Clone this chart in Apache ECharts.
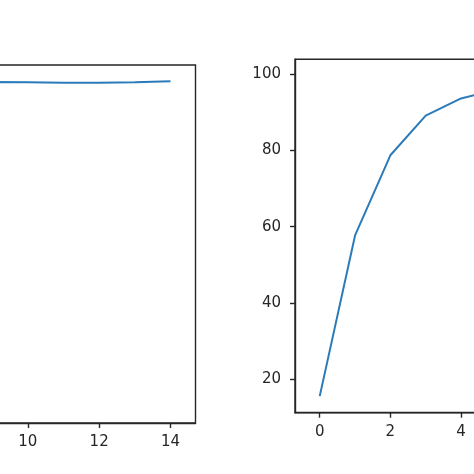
<!DOCTYPE html>
<html>
<head>
<meta charset="utf-8">
<script src="https://cdn.jsdelivr.net/npm/echarts@6/dist/echarts.min.js"></script>
<style>
html, body { margin: 0; padding: 0; width: 474px; height: 474px; overflow: hidden; background: #fff; }
#chart { position: absolute; left: -400px; top: 0; width: 1300px; height: 474px; }
</style>
</head>
<body>
<div id="chart"></div>
<script>
// Epoch index shared by both panels
const epochs = [0, 1, 2, 3, 4, 5, 6, 7, 8, 9, 10, 11, 12, 13, 14];
// Left panel (only its right part is visible in the crop)
const leftValues = [42.1, 71.5, 80.3, 85.0, 88.2, 90.3, 91.8, 93.0, 93.8, 94.45, 94.4, 94.35, 94.35, 94.4, 94.6];
// Right panel
const rightValues = [15.6, 57.7, 78.7, 89.1, 93.6, 95.9, 97.2, 98.0, 98.6, 99.0, 99.2, 99.4, 99.5, 99.6, 99.7];
// Tick labels
const xTicks = [0, 2, 4, 6, 8, 10, 12, 14];
const leftYTicks = [40, 50, 60, 70, 80, 90];
const rightYTicks = [20, 40, 60, 80, 100];

const LINE = '#2b7bba';
const INK = '#262626';
const FONT = 'DejaVu Sans';

function pairs(xs, ys) { return xs.map((x, i) => [x, ys[i]]); }

function xAxisDef(gridIndex) {
  return {
    type: 'value', gridIndex, min: -0.7, max: 14.7,
    axisLine: { show: true, onZero: false, lineStyle: { color: INK, width: 1.4 } },
    splitLine: { show: false },
    axisTick: { show: true, inside: false, length: 5, lineStyle: { color: INK, width: 1.4 }, customValues: xTicks },
    axisLabel: { show: true, margin: 12, color: INK, fontSize: 15, fontFamily: FONT, customValues: xTicks }
  };
}
function yAxisDef(gridIndex, min, max, ticks) {
  return {
    type: 'value', gridIndex, min, max,
    axisLine: { show: true, onZero: false, lineStyle: { color: INK, width: 1.4 } },
    splitLine: { show: false },
    axisTick: { show: true, inside: false, length: 5, lineStyle: { color: INK, width: 1.4 }, customValues: ticks },
    axisLabel: { show: true, margin: 14, color: INK, fontSize: 15, fontFamily: FONT, customValues: ticks }
  };
}

const chart = echarts.init(document.getElementById('chart'), null, { renderer: 'canvas' });
chart.setOption({
  animation: false,
  backgroundColor: '#fff',
  grid: [
    { left: 46, top: 65, width: 549.5, height: 358, show: true, borderColor: INK, borderWidth: 1.4, backgroundColor: 'transparent' },
    { left: 695, top: 59.3, width: 544, height: 353.4, show: true, borderColor: INK, borderWidth: 1.4, backgroundColor: 'transparent' }
  ],
  xAxis: [xAxisDef(0), xAxisDef(1)],
  yAxis: [
    yAxisDef(0, 39.5, 97.2, leftYTicks),
    yAxisDef(1, 11.25, 103.85, rightYTicks)
  ],
  series: [
    { type: 'line', xAxisIndex: 0, yAxisIndex: 0, data: pairs(epochs, leftValues), showSymbol: false, lineStyle: { color: LINE, width: 2 }, itemStyle: { color: LINE } },
    { type: 'line', xAxisIndex: 1, yAxisIndex: 1, data: pairs(epochs, rightValues), showSymbol: false, lineStyle: { color: LINE, width: 2 }, itemStyle: { color: LINE } }
  ]
});
</script>
</body>
</html>
